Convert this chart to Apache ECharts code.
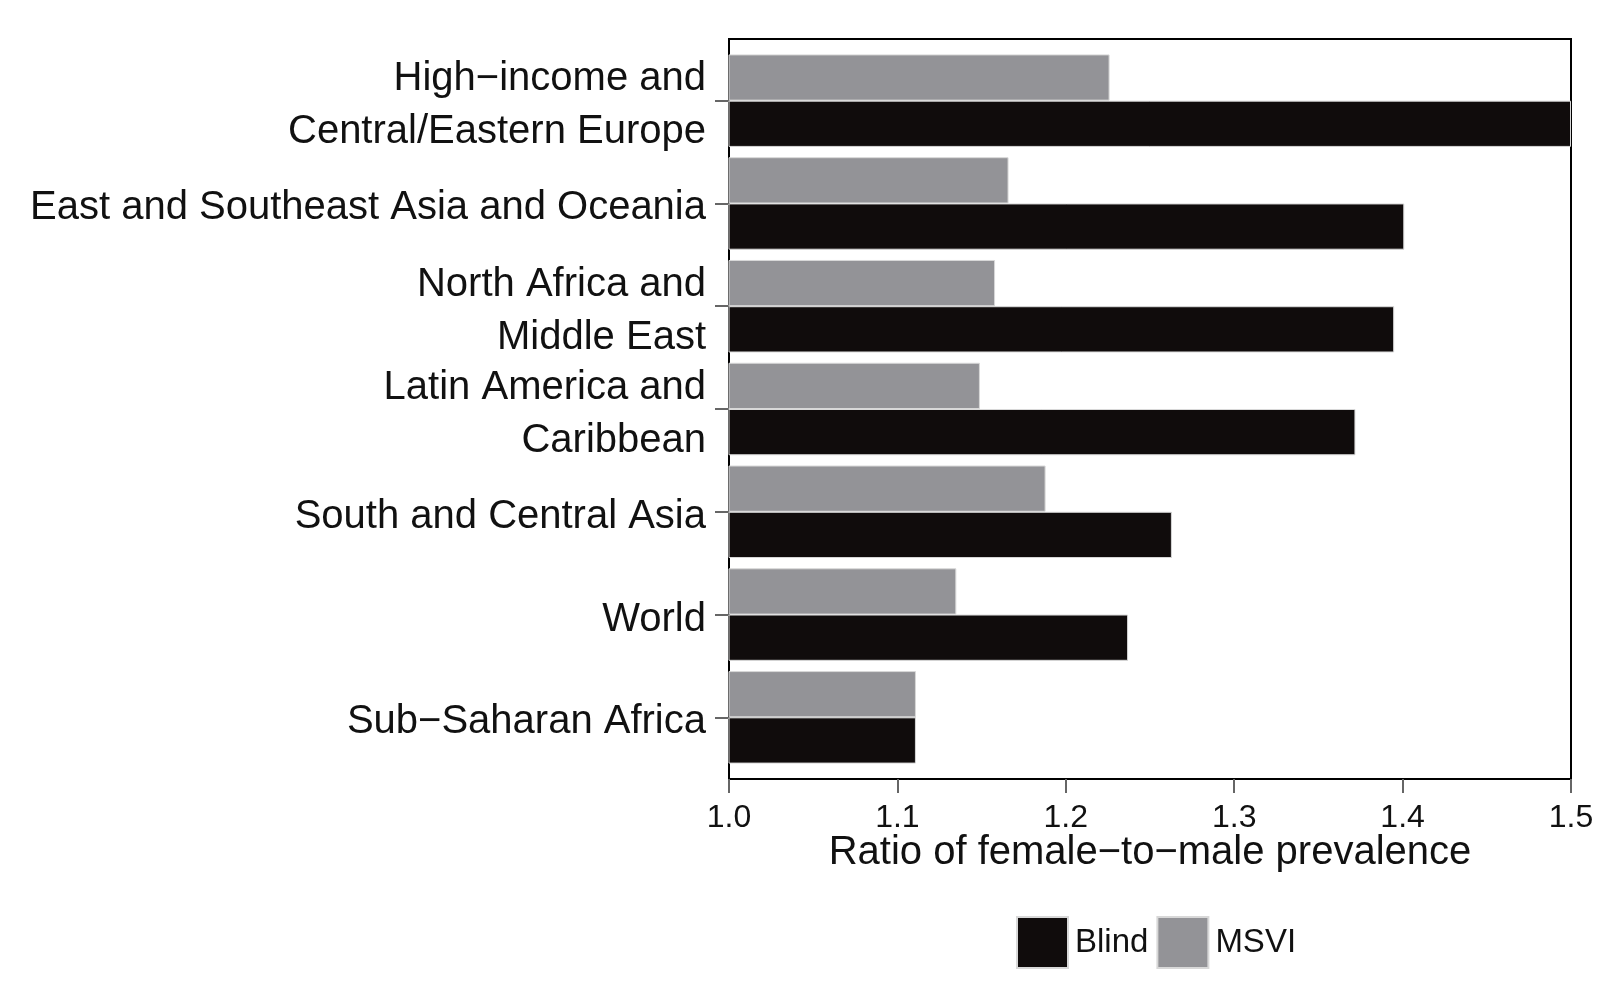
<!DOCTYPE html>
<html>
<head>
<meta charset="utf-8">
<title>Ratio of female-to-male prevalence</title>
<script src="https://cdn.jsdelivr.net/npm/echarts@6/dist/echarts.min.js"></script>
<style>
  html, body { margin: 0; padding: 0; background: #fff; }
  #chart { width: 1600px; height: 1000px; }
</style>
</head>
<body>
<div id="chart"></div>
<script>
// Categories, top to bottom
const categories = [
  'High−income and\nCentral/Eastern Europe',
  'East and Southeast Asia and Oceania',
  'North Africa and\nMiddle East',
  'Latin America and\nCaribbean',
  'South and Central Asia',
  'World',
  'Sub−Saharan Africa'
];
const blindValues = [1.500, 1.401, 1.395, 1.372, 1.263, 1.237, 1.111];
const msviValues  = [1.226, 1.166, 1.158, 1.149, 1.188, 1.135, 1.111];
const xMin = 1.0, xMax = 1.5, xStep = 0.1;
const axisTitle = 'Ratio of female−to−male prevalence';
const legendNames = ['Blind', 'MSVI'];

const FONT = '"Liberation Sans", Arial, Helvetica, sans-serif';
const BLACK = '#100c0c';
const GREY = '#939397';

// Panel geometry (ggplot-like expansion of 0.6 category units each side)
const panelLeft = 729, panelTop = 39, panelWidth = 842, panelHeight = 740;
const nCat = categories.length;
const band = panelHeight / (nCat - 1 + 1.2);
const pad = 0.1 * band;
const labelShift = 5;

const chart = echarts.init(document.getElementById('chart'), null, { renderer: 'canvas' });
chart.setOption({
  backgroundColor: '#fff',
  animation: false,
  textStyle: { fontFamily: FONT },
  legend: {
    data: legendNames,
    left: 1016, top: 916,
    padding: 0,
    itemWidth: 51, itemHeight: 51, itemGap: 8,
    icon: 'rect',
    textStyle: { fontSize: 33, color: '#111', fontFamily: FONT, padding: [0, 0, 0, 2] }
  },
  grid: [
    { left: panelLeft, top: panelTop, width: panelWidth, height: panelHeight,
      show: true, borderColor: '#000', borderWidth: 2, backgroundColor: 'transparent' },
    { left: panelLeft, top: panelTop + pad, width: panelWidth, height: panelHeight - 2 * pad },
    { left: panelLeft, top: panelTop + pad + labelShift, width: panelWidth, height: panelHeight - 2 * pad }
  ],
  xAxis: [
    { gridIndex: 0, type: 'value', min: xMin, max: xMax, interval: xStep,
      splitLine: { show: false },
      axisLine: { show: true, lineStyle: { color: '#000', width: 2 } },
      axisTick: { show: true, length: 14, lineStyle: { color: '#666', width: 2 } },
      axisLabel: { fontSize: 32, color: '#111', margin: 23, fontFamily: FONT,
        formatter: v => v.toFixed(1) },
      name: axisTitle, nameLocation: 'middle', nameGap: 54, nameMoveOverlap: false,
      nameTextStyle: { fontSize: 40, color: '#111', fontFamily: FONT }
    },
    { gridIndex: 1, type: 'value', min: xMin, max: xMax, show: false },
    { gridIndex: 2, type: 'value', min: xMin, max: xMax, show: false }
  ],
  yAxis: [
    { gridIndex: 0, type: 'value', min: 0, max: 1, show: false },
    { gridIndex: 1, type: 'category', data: categories, inverse: true,
      axisLine: { show: false },
      axisTick: { show: true, alignWithLabel: true, length: 14, lineStyle: { color: '#666', width: 2 } },
      axisLabel: { show: false },
      splitLine: { show: false }
    },
    { gridIndex: 2, type: 'category', data: categories, inverse: true,
      axisLine: { show: false },
      axisTick: { show: false },
      axisLabel: { fontSize: 40, color: '#111', margin: 23, lineHeight: 53, fontFamily: FONT, align: 'right' },
      splitLine: { show: false }
    }
  ],
  series: [
    { name: 'MSVI', type: 'bar', xAxisIndex: 1, yAxisIndex: 1, data: msviValues,
      barWidth: band * 0.45, barGap: '0%',
      itemStyle: { color: GREY, borderColor: '#d8d8d8', borderWidth: 1 } },
    { name: 'Blind', type: 'bar', xAxisIndex: 1, yAxisIndex: 1, data: blindValues,
      barWidth: band * 0.45, barGap: '0%',
      itemStyle: { color: BLACK, borderColor: '#d8d8d8', borderWidth: 1 } }
  ]
});
</script>
</body>
</html>
